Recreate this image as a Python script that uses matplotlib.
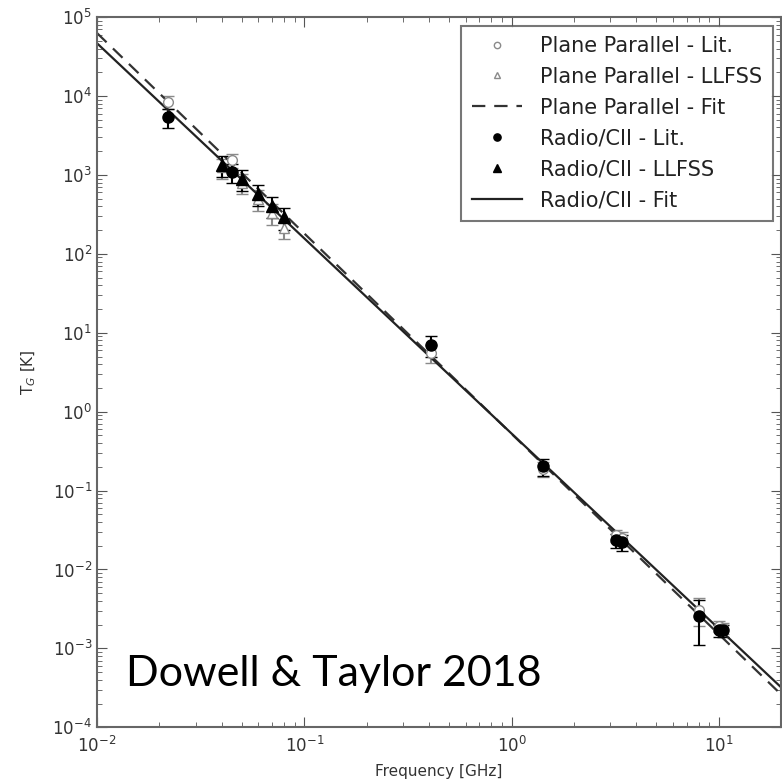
import matplotlib.pyplot as plt
import numpy as np

# literature points (GHz, K)
freq_lit = [0.022, 0.045, 0.408, 1.42, 3.2, 3.41, 8.0, 10.0, 10.5]
radio_lit = [5400, 1085, 7.0, 0.204, 0.0235, 0.022, 0.0026, 0.0017, 0.0017]
radio_lit_err = [1500, 300, 2.0, 0.05, 0.005, 0.005, 0.0015, 0.0003, 0.0003]
pp_lit = [8400, 1540, 5.6, 0.19, 0.027, 0.025, 0.0031, 0.0019, 0.0018]
pp_lit_err = [1500, 300, 1.5, 0.04, 0.005, 0.005, 0.0012, 0.0003, 0.0003]

# LLFSS points
freq_llfss = [0.040, 0.050, 0.060, 0.070, 0.080]
radio_llfss = [1330, 885, 572, 403, 292]
radio_llfss_err = [400, 260, 170, 120, 90]
pp_llfss = [1250, 800, 500, 330, 214]
pp_llfss_err = [350, 230, 150, 100, 60]

# fit lines, end points
fit_freq = [0.01, 20.0]
fit_radio = [46800, 3.2e-4]
fit_pp = [63000, 2.6e-4]

fig = plt.figure(figsize=(7.82, 7.82), dpi=100)
ax = fig.add_axes([0.124, 0.070, 0.875, 0.908])

gray = "#8a8a8a"
e1 = ax.errorbar(freq_lit, pp_lit, yerr=pp_lit_err, fmt="o", mfc="white", mec=gray,
                 ecolor=gray, ms=7, capsize=4)
e2 = ax.errorbar(freq_llfss, pp_llfss, yerr=pp_llfss_err, fmt="^", mfc="white", mec=gray,
                 ecolor=gray, ms=7, capsize=4)
l3, = ax.plot(fit_freq, fit_pp, color="#333333", lw=1.6, dashes=(6, 4))
e4 = ax.errorbar(freq_lit, radio_lit, yerr=radio_lit_err, fmt="o", color="black",
                 ms=8, capsize=4)
e5 = ax.errorbar(freq_llfss, radio_llfss, yerr=radio_llfss_err, fmt="^", color="black",
                 ms=8, capsize=4)
l6, = ax.plot(fit_freq, fit_radio, "-", color="#222222", lw=1.6)

ax.set_xscale("log")
ax.set_yscale("log")
ax.set_xlim(0.01, 20)
ax.set_ylim(1e-4, 1e5)

ax.tick_params(which="both", direction="in", top=True, right=True,
               colors="#555555", labelcolor="#333333", labelsize=12)
ax.tick_params(which="major", length=7)
ax.tick_params(which="minor", length=3.5)
ax.tick_params(axis="x", pad=6)
for s in ax.spines.values():
    s.set_color("#666666")
    s.set_linewidth(1.5)

ax.set_xlabel("Frequency [GHz]", fontsize=11, color="#333333", labelpad=6)
ax.set_ylabel("T$_G$ [K]", fontsize=11, color="#333333", labelpad=10)

handles = [e1[0], e2[0], l3, e4[0], e5[0], l6]
labels = ["Plane Parallel - Lit.", "Plane Parallel - LLFSS", "Plane Parallel - Fit",
          "Radio/CII - Lit.", "Radio/CII - LLFSS", "Radio/CII - Fit"]
leg = ax.legend(handles, labels, loc="upper right", fontsize=15, frameon=True,
                fancybox=False, edgecolor="#555555", handlelength=2.4,
                borderaxespad=0.4, labelspacing=0.52, markerscale=0.65,
                borderpad=0.5, handletextpad=0.9)
leg.get_frame().set_linewidth(1.5)
for t in leg.get_texts():
    t.set_color("#222222")

ax.text(0.042, 0.058, "Dowell & Taylor 2018", transform=ax.transAxes,
        fontsize=31, family="Lato", color="black")

fig.savefig("out.png", dpi=100)
